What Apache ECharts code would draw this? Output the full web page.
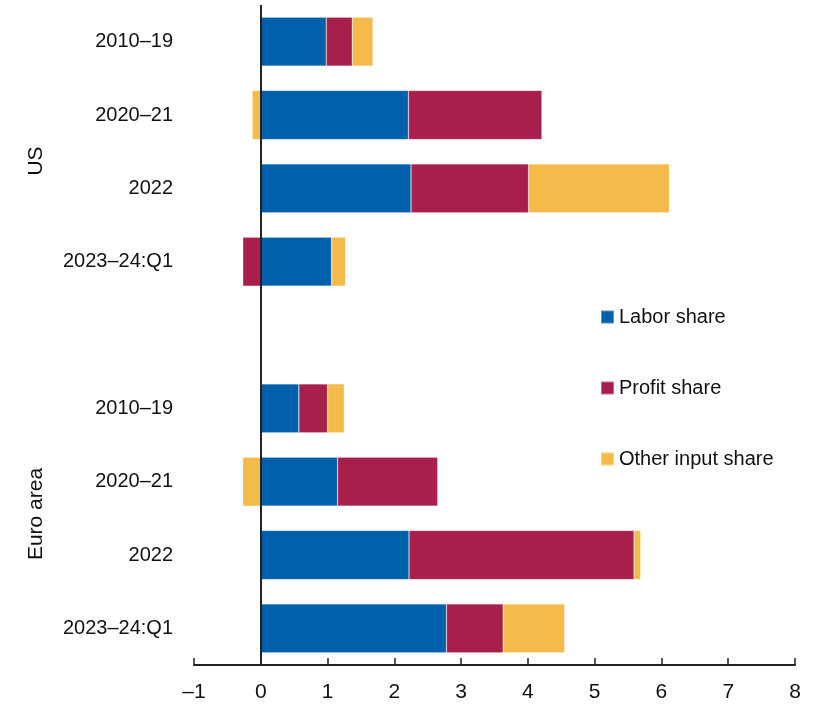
<!DOCTYPE html>
<html>
<head>
<meta charset="utf-8">
<script src="https://cdn.jsdelivr.net/npm/echarts@6/dist/echarts.min.js"></script>
<style>
html,body{margin:0;padding:0;background:#fff;}
#chart{width:820px;height:709px;}
</style>
</head>
<body>
<div id="chart"></div>
<script>
const categories = ['2010–19','2020–21','2022','2023–24:Q1','','2010–19','2020–21','2022','2023–24:Q1'];
const laborShare  = [0.98, 2.21, 2.25, 1.06, null, 0.57, 1.15, 2.22, 2.78];
const profitShare = [0.39, 2.00, 1.76, -0.27, null, 0.43, 1.50, 3.37, 0.85];
const otherShare  = [0.31, -0.13, 2.11, 0.21, null, 0.25, -0.27, 0.10, 0.92];
const xTicks = [-1, 0, 1, 2, 3, 4, 5, 6, 7, 8];
const groupLabels = ['US', 'Euro area'];

const FONT = '"Liberation Sans", Arial, sans-serif';
const chart = echarts.init(document.getElementById('chart'), null, {renderer:'canvas'});

const barCommon = {
  type: 'bar',
  stack: 'total',
  barWidth: 49,
  itemStyle: {borderColor: 'rgba(255,255,255,0.35)', borderWidth: 0.6},
  emphasis: {disabled: true}
};

const option = {
  animation: false,
  backgroundColor: '#fff',
  grid: {left: 194, right: 25, top: 5, bottom: 44, containLabel: false},
  legend: {
    orient: 'vertical',
    left: 595,
    top: 302,
    itemWidth: 13,
    itemHeight: 13,
    itemGap: 51,
    icon: 'rect',
    textStyle: {fontFamily: FONT, fontSize: 20, color: '#111', lineHeight: 20},
    data: ['Labor share', 'Profit share', 'Other input share']
  },
  xAxis: {
    type: 'value',
    min: -1,
    max: 8,
    interval: 1,
    axisLine: {show: true, onZero: false, lineStyle: {color: '#222', width: 1.8}},
    axisTick: {show: true, inside: true, length: 7, lineStyle: {color: '#222', width: 1.5}},
    splitLine: {show: false},
    axisLabel: {
      fontFamily: FONT, fontSize: 21, color: '#111', margin: 17,
      formatter: function (v) { return xTicks.indexOf(v) >= 0 ? String(v).replace('-', '–') : ''; }
    }
  },
  yAxis: {
    type: 'category',
    inverse: true,
    data: categories,
    axisLine: {show: false},
    axisTick: {show: false},
    splitLine: {show: false},
    axisLabel: {fontFamily: FONT, fontSize: 20, color: '#111', margin: 21}
  },
  graphic: [
    {type: 'text', x: 36, y: 161, rotation: Math.PI / 2,
     style: {text: groupLabels[0], font: '21px ' + FONT, fill: '#111', align: 'center', verticalAlign: 'middle'}},
    {type: 'text', x: 36, y: 514, rotation: Math.PI / 2,
     style: {text: groupLabels[1], font: '21px ' + FONT, fill: '#111', align: 'center', verticalAlign: 'middle'}}
  ],
  series: [
    Object.assign({}, barCommon, {
      name: 'Labor share', data: laborShare, itemStyle: Object.assign({}, barCommon.itemStyle, {color: '#0060AB'}),
      markLine: {
        silent: true, symbol: 'none', label: {show: false},
        lineStyle: {color: '#222', width: 2, type: 'solid'},
        data: [{xAxis: 0}]
      }
    }),
    Object.assign({}, barCommon, {
      name: 'Profit share', data: profitShare, itemStyle: Object.assign({}, barCommon.itemStyle, {color: '#A91F4B'})
    }),
    Object.assign({}, barCommon, {
      name: 'Other input share', data: otherShare, itemStyle: Object.assign({}, barCommon.itemStyle, {color: '#F4BB4A'})
    })
  ]
};
chart.setOption(option);
</script>
</body>
</html>
